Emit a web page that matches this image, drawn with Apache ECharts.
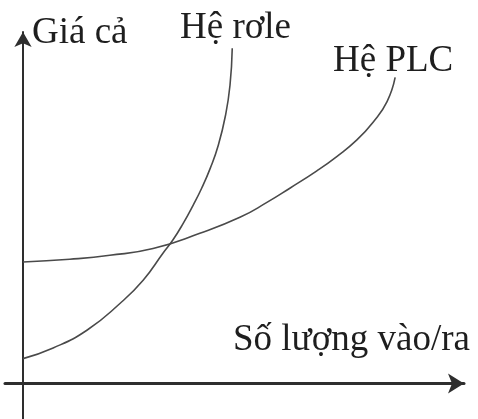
<!DOCTYPE html>
<html>
<head>
<meta charset="utf-8">
<script src="https://cdn.jsdelivr.net/npm/echarts@6/dist/echarts.min.js"></script>
<style>
  html, body { margin: 0; padding: 0; background: #fff; }
  #chart { width: 478px; height: 419px; }
</style>
</head>
<body>
<div id="chart"></div>
<script>
// Cost versus number of I/O points: relay system vs PLC system
const yAxisTitle = 'Giá cả';
const xAxisTitle = 'Số lượng vào/ra';
const seriesNames = ['Hệ rơle', 'Hệ PLC'];

const relayX = [0, 6.7, 14.2, 21.6, 26.7, 31.1, 33.3, 35.6, 37.8, 39.7, 41.6, 43.4, 45.0, 46.0, 46.5];
const relayY = [7.0, 10.0, 15.0, 22.6, 29.1, 36.7, 40.4, 45.1, 50.2, 55.0, 60.6, 67.1, 75.5, 84.0, 94.4];

const plcX = [0, 10.4, 19.3, 28.9, 39.3, 48.2, 54.2, 59.3, 65.3, 69.8, 74.2, 77.8, 80.9, 82.7];
const plcY = [34.2, 35.0, 36.1, 38.0, 42.3, 46.8, 51.0, 55.0, 59.9, 64.0, 68.6, 73.6, 79.4, 86.2];

const zip = (xs, ys) => xs.map((x, i) => [x, ys[i]]);

const chart = echarts.init(document.getElementById('chart'), null, { renderer: 'canvas' });

const serif = '"Liberation Serif", "DejaVu Serif", serif';
const textStyle = { font: '37px ' + serif, fill: '#1e1e1e', textVerticalAlign: 'middle' };

const axisLineStyle = (w) => ({ color: '#2e2e2e', width: w });
const curveStyle = { color: '#4a4a4a', width: 1.6 };

chart.setOption({
  animation: false,
  backgroundColor: '#fff',
  grid: { left: 5, right: 14, top: 32, bottom: 0, containLabel: false },
  xAxis: {
    type: 'value', min: -4, max: 98,
    axisLine: { onZero: true, symbol: ['none', 'arrow'], symbolSize: [15, 16], lineStyle: axisLineStyle(3) },
    axisTick: { show: false }, axisLabel: { show: false }, splitLine: { show: false }
  },
  yAxis: {
    type: 'value', min: -10, max: 99,
    axisLine: { onZero: true, symbol: ['none', 'arrow'], symbolSize: [13, 15], lineStyle: axisLineStyle(2) },
    axisTick: { show: false }, axisLabel: { show: false }, splitLine: { show: false }
  },
  series: [
    {
      name: seriesNames[0], type: 'line', smooth: 0.5, showSymbol: false,
      lineStyle: curveStyle,
      data: zip(relayX, relayY)
    },
    {
      name: seriesNames[1], type: 'line', smooth: 0.5, showSymbol: false,
      lineStyle: curveStyle,
      data: zip(plcX, plcY)
    }
  ],
  graphic: [
    { type: 'text', left: 32, top: 15, style: Object.assign({ text: yAxisTitle }, textStyle) },
    { type: 'text', left: 180, top: 10, style: Object.assign({ text: seriesNames[0] }, textStyle) },
    { type: 'text', left: 333, top: 43, style: Object.assign({ text: seriesNames[1] }, textStyle) },
    { type: 'text', left: 233, top: 322, style: Object.assign({ text: xAxisTitle }, textStyle) }
  ]
});
</script>
</body>
</html>
